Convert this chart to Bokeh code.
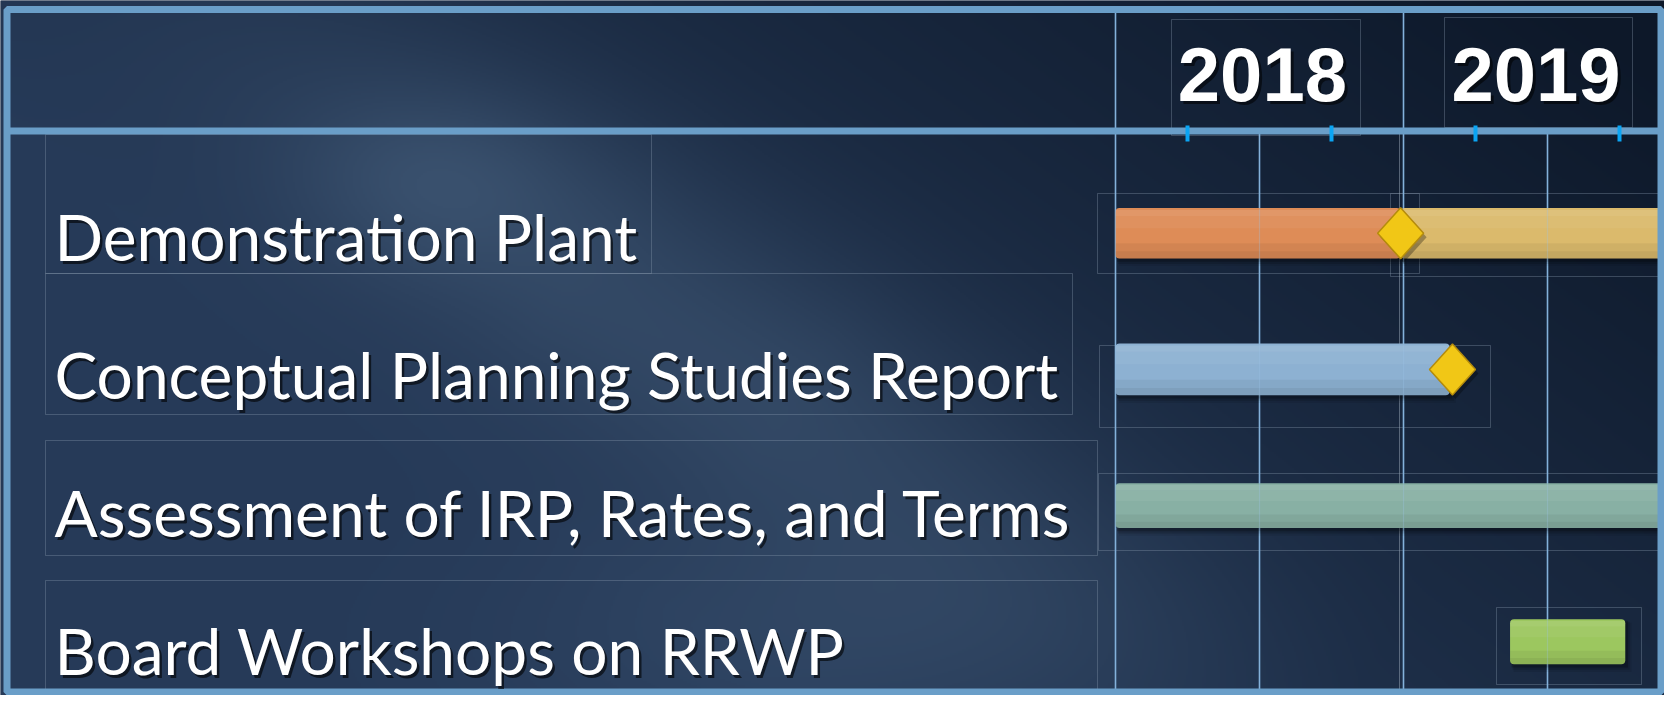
import numpy as np
from bokeh.plotting import figure
from bokeh.models import Range1d
from bokeh.core.properties import value
from bokeh.embed import file_html
from bokeh.resources import INLINE

# ---------------- data ----------------
tasks = ["Demonstration Plant",
         "Conceptual Planning Studies Report",
         "Assessment of IRP, Rates, and Terms",
         "Board Workshops on RRWP"]
task_row = [0, 1, 2, 3]

bar_task = [0, 0, 1, 2, 3]
bar_start = [2018.0, 2018.99, 2018.0, 2018.0, 2019.37]
bar_end = [2018.99, 2019.96, 2019.16, 2019.97, 2019.77]
bar_color = ["#de8c57", "#dbba6c", "#8db1d2", "#88b0a4", "#9cc75f"]
bar_height = [0.37, 0.37, 0.38, 0.33, 0.33]

milestone_task = [0, 1]
milestone_date = [2018.99, 2019.17]

years = ["2018", "2019"]
year_label_x = [2018.51, 2019.46]
gridline_x = [2018.0, 2018.5, 2019.0, 2019.5]
gridline_full = [True, False, True, False]
tick_x = [2018.25, 2018.75, 2019.25, 2019.75]

# ---------------- layout helpers (pixel space, 1:1 with the reference) ----------------
W, H = 1664, 695
PX_YEAR = 288.0
X2018 = 1115.0
ROW0, ROWSTEP = 232.7, 136.2        # bar rows
LROW0, LROWSTEP = 236.0, 138.0      # label rows

x_start = 2018 - X2018 / PX_YEAR
x_end = x_start + W / PX_YEAR
y_top = -ROW0 / ROWSTEP
y_bot = (H - ROW0) / ROWSTEP


def rx(px):
    return x_start + px / PX_YEAR


def ry(py):
    return (py - ROW0) / ROWSTEP


dxp = 1.0 / PX_YEAR
dyp = 1.0 / ROWSTEP

p = figure(width=W, height=H, x_range=Range1d(x_start, x_end),
           y_range=Range1d(y_bot, y_top), output_backend="svg",
           toolbar_location=None, min_border=0)
p.extra_y_ranges = {"labels": Range1d((H - LROW0) / LROWSTEP, -LROW0 / LROWSTEP)}
p.axis.visible = False
p.grid.visible = False
p.outline_line_color = None
p.background_fill_color = "#1c2d47"
p.border_fill_color = "#1c2d47"

# ---------------- background gradient ----------------
nx, ny = 832, 348
X, Y = np.meshgrid(np.linspace(0, W, nx), np.linspace(0, H, ny))
c_dark = np.array([13, 24, 41], float)
c_mid = np.array([38, 58, 88], float)
c_light = np.array([72, 98, 128], float)
t = np.clip(X / W * 0.95 + (1 - Y / H) * 0.55 - 0.45, 0, 1)
col = c_mid[None, None, :] * (1 - t[..., None]) + c_dark[None, None, :] * t[..., None]
x0, y0, x1, y1 = 300.0, 90.0, 1150.0, 640.0
vx, vy = x1 - x0, y1 - y0
L = np.hypot(vx, vy)
d = np.abs((X - x0) * vy - (Y - y0) * vx) / L
along = ((X - x0) * vx + (Y - y0) * vy) / L / L
s = np.exp(-(d / 150.0) ** 2) * np.clip(1.2 - np.abs(along - 0.45) * 1.6, 0, 1) * 0.45
glow = np.exp(-(((X - 430) / 140.0) ** 2 + ((Y - 180) / 90.0) ** 2)) * 0.3
glow2 = np.exp(-(((X - 800) / 300.0) ** 2 + ((Y - 640) / 120.0) ** 2)) * 0.25
s = np.clip(s + glow + glow2, 0, 1)
col = col * (1 - s[..., None]) + c_light[None, None, :] * s[..., None]
img = np.empty((ny, nx), dtype=np.uint32)
view = img.view(dtype=np.uint8).reshape((ny, nx, 4))
view[..., 0] = col[..., 0].astype(np.uint8)
view[..., 1] = col[..., 1].astype(np.uint8)
view[..., 2] = col[..., 2].astype(np.uint8)
view[..., 3] = 255
p.image_rgba(image=[img], x=x_start, y=y_top, dw=x_end - x_start, dh=y_bot - y_top)

# ---------------- faint text-box outlines ----------------
box_col = "#8a9ab0"
boxes = [(1171, 1360, 19, 135), (1444, 1632, 17, 127),
         (1097, 1419, 193, 273), (1390, 1671, 193, 276),
         (1099, 1490, 345, 427), (1098, 1672, 473, 550),
         (1496, 1641, 607, 684), (45, 651, 134, 273),
         (45, 1072, 273, 414), (45, 1097, 440, 555), (45, 1097, 580, 720)]
p.quad(left=[rx(b[0]) for b in boxes], right=[rx(b[1]) for b in boxes],
       top=[ry(b[2]) for b in boxes], bottom=[ry(b[3]) for b in boxes],
       fill_color=None, line_color=box_col, line_alpha=0.35, line_width=1)

# ---------------- grid lines (under bars) ----------------
header_y = ry(130.5)
g_top = [ry(9) if f else header_y for f in gridline_full]
g_bot = [ry(692)] * len(gridline_x)
p.segment(x0=[2019.0 - 4 * dxp], x1=[2019.0 - 4 * dxp], y0=[header_y], y1=[ry(692)],
          line_color="#9aa8b8", line_width=1, line_alpha=0.5)
p.segment(x0=gridline_x, x1=gridline_x, y0=g_top, y1=g_bot,
          line_color="#7aaad4", line_width=1.6)

# ---------------- bars ----------------
b_top = [bar_task[i] - bar_height[i] / 2 for i in range(len(bar_task))]
b_bot = [bar_task[i] + bar_height[i] / 2 for i in range(len(bar_task))]
for k, a in [(7, 0.08), (5, 0.14), (3, 0.22)]:
    p.quad(left=[v + k * 0.5 * dxp for v in bar_start],
           right=[v + k * 0.9 * dxp for v in bar_end],
           top=[v + k * 0.5 * dyp for v in b_top],
           bottom=[v + k * 1.1 * dyp for v in b_bot],
           fill_color="black", fill_alpha=a, line_color=None)

bar_kw = dict(left=bar_start, right=bar_end, top=b_top, bottom=b_bot,
              fill_color=bar_color, line_color=None)
try:
    p.quad(border_radius=4, **bar_kw)
except Exception:
    p.quad(**bar_kw)

# soft sheen
for f0, f1, c, a in [(0.04, 0.16, "white", 0.10), (0.16, 0.40, "white", 0.05),
                     (0.70, 0.86, "black", 0.05), (0.86, 1.0, "black", 0.10)]:
    p.quad(left=bar_start, right=bar_end,
           top=[b_top[i] + bar_height[i] * f0 for i in range(len(bar_task))],
           bottom=[b_top[i] + bar_height[i] * f1 for i in range(len(bar_task))],
           fill_color=c, fill_alpha=a, line_color=None)

# grid lines faintly over the bars
p.segment(x0=gridline_x, x1=gridline_x, y0=g_top, y1=g_bot,
          line_color="#9cc4e8", line_width=1.2, line_alpha=0.3)

# ---------------- milestones ----------------
hw, hh = 23 * dxp, 25.5 * dyp
dm_xs = [[m, m + hw, m, m - hw] for m in milestone_date]
dm_ys = [[r - hh, r, r + hh, r] for r in milestone_task]
p.patches(xs=[[x + 3 * dxp for x in xs] for xs in dm_xs],
          ys=[[y + 4 * dyp for y in ys] for ys in dm_ys],
          fill_color="black", fill_alpha=0.3, line_color=None)
p.patches(xs=dm_xs, ys=dm_ys, fill_color="#f1c716",
          line_color="#b58c0c", line_width=1.5)

# ---------------- frame ----------------
frame_col = "#6a9ec8"
p.quad(left=[rx(6.5)], right=[rx(1660.5)], top=[ry(9)], bottom=[ry(691.5)],
       fill_color=None, line_color=frame_col, line_width=7)
p.segment(x0=[rx(6.5)], x1=[rx(1660.5)], y0=[header_y], y1=[header_y],
          line_color=frame_col, line_width=7)

# quarter ticks
p.segment(x0=tick_x, x1=tick_x, y0=[ry(125)] * 4, y1=[ry(141)] * 4,
          line_color="#0ba5f4", line_width=4)

# ---------------- year labels ----------------
yl_y = [ry(74)] * len(years)
p.text(x=[v + 3 * dxp for v in year_label_x], y=[v + 3 * dyp for v in yl_y], text=years,
       text_font=value("Liberation Sans"), text_font_style="bold",
       text_font_size="76px", text_align="center", text_baseline="middle",
       text_color="black", text_alpha=0.55)
p.text(x=year_label_x, y=yl_y, text=years,
       text_font=value("Liberation Sans"), text_font_style="bold",
       text_font_size="76px", text_align="center", text_baseline="middle",
       text_color="white")

# ---------------- task labels ----------------
lab_x = [rx(54)] * len(tasks)
p.text(x=[v + 2.5 * dxp for v in lab_x], y=task_row, text=tasks,
       text_font=value("Lato"), text_font_size="64px", text_align="left",
       text_baseline="middle", y_offset=3, text_color="black", text_alpha=0.6,
       y_range_name="labels")
p.text(x=lab_x, y=task_row, text=tasks,
       text_font=value("Lato"), text_font_size="64px", text_align="left",
       text_baseline="middle", y_offset=0, text_color="white",
       y_range_name="labels")

open("out.html", "w").write(file_html(p, INLINE))
